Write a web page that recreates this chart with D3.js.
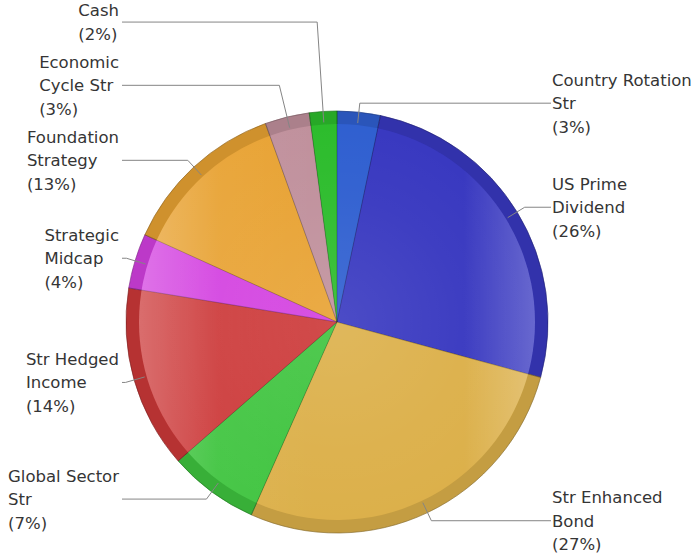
<!DOCTYPE html>
<html>
<head>
<meta charset="utf-8">
<script src="https://cdn.jsdelivr.net/npm/d3@7"></script>
<style>
  body { margin: 0; background: #fff; }
  svg text { font-family: "DejaVu Sans", Verdana, sans-serif; font-size: 16.5px; fill: #353535; }
</style>
</head>
<body>
<div id="chart"></div>
<script>
// Data (percent of portfolio)
const categories = ["Country Rotation Str", "US Prime Dividend", "Str Enhanced Bond", "Global Sector Str",
                    "Str Hedged Income", "Strategic Midcap", "Foundation Strategy", "Economic Cycle Str", "Cash"];
const values = [3.3, 25.9, 27.4, 6.9, 14.0, 4.2, 12.7, 3.4, 2.1];
const labelLines = [["Country Rotation", "Str"], ["US Prime", "Dividend"], ["Str Enhanced", "Bond"],
                    ["Global Sector", "Str"], ["Str Hedged", "Income"], ["Strategic", "Midcap"],
                    ["Foundation", "Strategy"], ["Economic", "Cycle Str"], ["Cash"]];
const colors = ["#2f5fd0", "#3838c0", "#dcb04a", "#3fc43f", "#cc3838", "#d340e0", "#e8a232", "#c0909c", "#2cbc2c"];

const width = 696, height = 558;
const cx = 337, cy = 322, radius = 211, rimWidth = 13;
const lineH = 23.5, gap = 4.5;

const svg = d3.select("#chart").append("svg")
    .attr("width", width)
    .attr("height", height);

const defs = svg.append("defs");
// horizontal glass sheen: lighter toward left and right edges
const sheen = defs.append("linearGradient").attr("id", "sheen")
    .attr("gradientUnits", "userSpaceOnUse")
    .attr("x1", cx - radius).attr("y1", 0).attr("x2", cx + radius).attr("y2", 0);
sheen.selectAll("stop")
    .data([
      {o: 0, a: 0.3},
      {o: 0.22, a: 0.05},
      {o: 0.45, a: 0.0},
      {o: 0.8, a: 0.0},
      {o: 1, a: 0.28}
    ])
    .enter().append("stop")
      .attr("offset", d => d.o)
      .attr("stop-color", "#fff")
      .attr("stop-opacity", d => d.a);

const glow = defs.append("radialGradient").attr("id", "glow")
    .attr("gradientUnits", "userSpaceOnUse")
    .attr("cx", cx).attr("cy", cy).attr("r", radius);
glow.selectAll("stop")
    .data([{o: 0, a: 0.1}, {o: 0.6, a: 0.03}, {o: 1, a: 0}])
    .enter().append("stop")
      .attr("offset", d => d.o)
      .attr("stop-color", "#fff")
      .attr("stop-opacity", d => d.a);

const pie = d3.pie().sort(null).value(d => d);
const arcs = pie(values);

const arcOuter = d3.arc().innerRadius(0).outerRadius(radius);
const arcInner = d3.arc().innerRadius(0).outerRadius(radius - rimWidth);

const g = svg.append("g").attr("transform", "translate(" + cx + "," + cy + ")");

// darker rim
g.selectAll("path.rim")
  .data(arcs)
  .enter().append("path")
    .attr("class", "rim")
    .attr("d", arcOuter)
    .attr("fill", (d, i) => d3.color(colors[i]).darker(0.32))
    .attr("stroke", (d, i) => d3.color(colors[i]).darker(0.7))
    .attr("stroke-width", 0.6);

// slice face
g.selectAll("path.face")
  .data(arcs)
  .enter().append("path")
    .attr("class", "face")
    .attr("d", arcInner)
    .attr("fill", (d, i) => colors[i]);

// sheen overlays
svg.append("circle")
    .attr("cx", cx).attr("cy", cy).attr("r", radius - rimWidth)
    .attr("fill", "url(#sheen)");
svg.append("circle")
    .attr("cx", cx).attr("cy", cy).attr("r", radius - rimWidth)
    .attr("fill", "url(#glow)");

// slice separators
g.selectAll("path.sep")
  .data(arcs)
  .enter().append("path")
    .attr("class", "sep")
    .attr("d", arcOuter)
    .attr("fill", "none")
    .attr("stroke", "rgba(0,0,0,0.2)")
    .attr("stroke-width", 0.7);

// ---- labels ----
const total = d3.sum(values);
const labels = arcs.map(function(d, i) {
  const a = (d.startAngle + d.endAngle) / 2;
  const lines = labelLines[i].concat(["(" + Math.round(d.value / total * 100) + "%)"]);
  return {
    i: i, a: a, lines: lines,
    h: lines.length * lineH,
    right: Math.sin(a) >= 0,
    y: -220 * Math.cos(a)
  };
});

// push left-hand labels upward so they do not overlap
const leftSide = labels.filter(l => !l.right).sort((p, q) => q.y - p.y);
for (let k = 1; k < leftSide.length; k++) {
  const prev = leftSide[k - 1], cur = leftSide[k];
  const limit = prev.y - (prev.h / 2 + cur.h / 2 + gap);
  if (cur.y > limit) cur.y = limit;
}

const lab = g.selectAll("g.label")
  .data(labels)
  .enter().append("g")
    .attr("class", "label");

lab.append("path")
    .attr("fill", "none")
    .attr("stroke", "#858585")
    .attr("stroke-width", 1)
    .attr("d", function(l) {
      const s = Math.sin(l.a), c = -Math.cos(l.a);
      const x0 = 200 * s, y0 = 200 * c;
      let rb = 220;
      if (Math.abs(c) > 0.2) rb = Math.max(220, l.y / c);
      const xb = rb * s, yb = l.y;
      const xe = l.right ? 214 : -215;
      return "M" + x0 + "," + y0 + "L" + xb + "," + yb + "L" + xe + "," + yb;
    });

lab.each(function(l) {
  const t = d3.select(this).append("text");
  const y0 = l.y - (l.lines.length - 1) / 2 * lineH;
  l.lines.forEach(function(s, k) {
    t.append("tspan").attr("x", 0).attr("y", y0 + k * lineH).attr("dy", "0.36em").text(s);
  });
  let x;
  if (l.right) {
    x = 215;
  } else {
    let w = 0;
    t.selectAll("tspan").each(function() { w = Math.max(w, this.getComputedTextLength()); });
    x = -218 - w;
  }
  t.selectAll("tspan").attr("x", x);
});
</script>
</body>
</html>
